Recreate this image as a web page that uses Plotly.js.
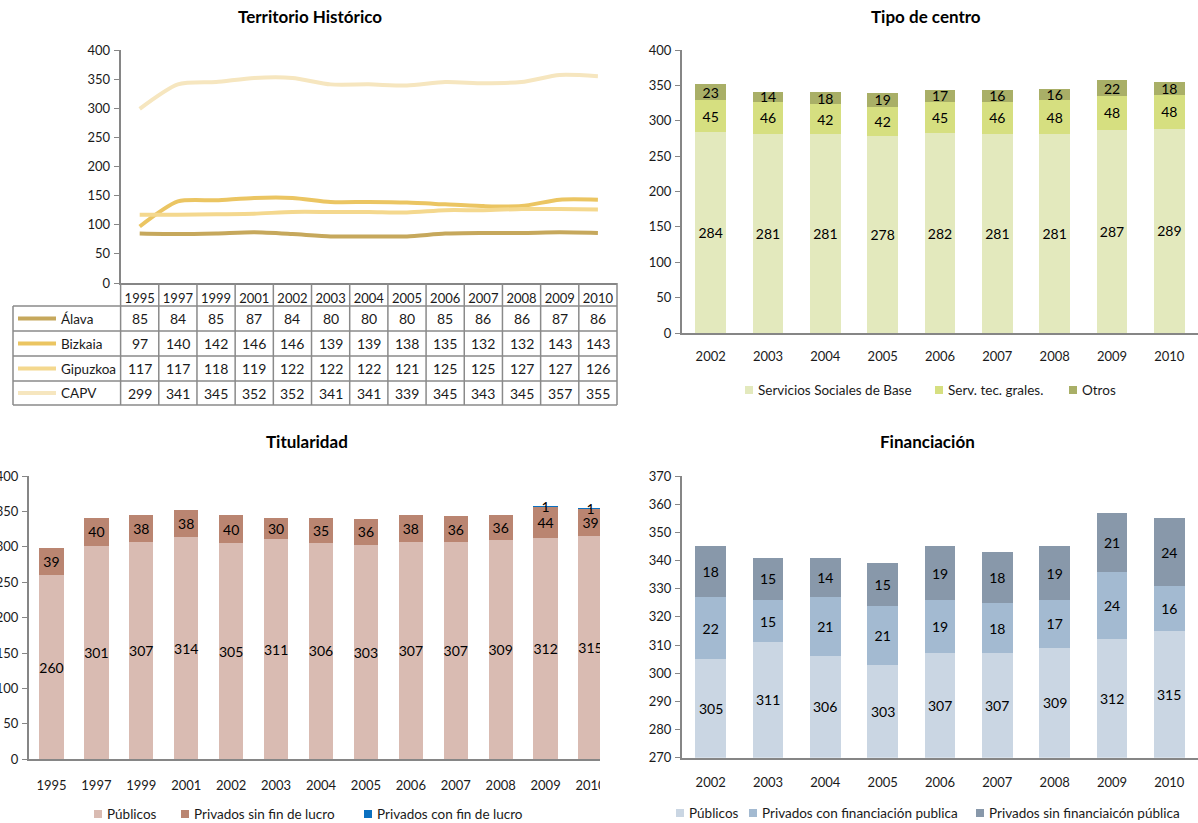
<!DOCTYPE html>
<html>
<head>
<meta charset="utf-8">
<script src="https://cdn.plot.ly/plotly-3.0.1.min.js"></script>
<style>html,body{margin:0;padding:0;background:#fff;}#chart{width:1198px;height:823px;}</style>
</head>
<body>
<div id="chart"></div>
<script>
// ---------- DATA ----------
const yearsTH = ['1995','1997','1999','2001','2002','2003','2004','2005','2006','2007','2008','2009','2010'];
const alava    = [85, 84, 85, 87, 84, 80, 80, 80, 85, 86, 86, 87, 86];
const bizkaia  = [97, 140, 142, 146, 146, 139, 139, 138, 135, 132, 132, 143, 143];
const gipuzkoa = [117, 117, 118, 119, 122, 122, 122, 121, 125, 125, 127, 127, 126];
const capv     = [299, 341, 345, 352, 352, 341, 341, 339, 345, 343, 345, 357, 355];
const thNames  = ['Álava', 'Bizkaia', 'Gipuzkoa', 'CAPV'];

const yearsTC = ['2002','2003','2004','2005','2006','2007','2008','2009','2010'];
const ssBase   = [284, 281, 281, 278, 282, 281, 281, 287, 289];
const servTec  = [45, 46, 42, 42, 45, 46, 48, 48, 48];
const otros    = [23, 14, 18, 19, 17, 16, 16, 22, 18];
const tcNames  = ['Servicios Sociales de Base', 'Serv. tec. grales.', 'Otros'];

const yearsTit = ['1995','1997','1999','2001','2002','2003','2004','2005','2006','2007','2008','2009','2010'];
const titPublicos = [260, 301, 307, 314, 305, 311, 306, 303, 307, 307, 309, 312, 315];
const titPrivSin  = [39, 40, 38, 38, 40, 30, 35, 36, 38, 36, 36, 44, 39];
const titPrivCon  = [null, null, null, null, null, null, null, null, null, null, null, 1, 1];
const titNames    = ['Públicos', 'Privados sin fin de lucro', 'Privados con fin de lucro'];

const yearsFin = ['2002','2003','2004','2005','2006','2007','2008','2009','2010'];
const finPublicos = [305, 311, 306, 303, 307, 307, 309, 312, 315];
const finPrivCon  = [22, 15, 21, 21, 19, 18, 17, 24, 16];
const finPrivSin  = [18, 15, 14, 15, 19, 18, 19, 21, 24];
const finNames    = ['Públicos', 'Privados con financiación publica', 'Privados sin financiaicón pública'];

// ---------- LAYOUT HELPERS ----------
const W = 1198, H = 823;
const px = x => x / W;
const py = y => 1 - y / H;
const FONT = 'Lato, Carlito, "Open Sans", sans-serif';
const AXC = '#868686';
const TXT = '#1a1a1a';

const thColors  = ['#C6A85C', '#EBC562', '#F4D88E', '#F6E6BF'];
const tcColors  = ['#E3E9BD', '#D6DF80', '#A9AF67'];
const titColors = ['#D9BBB2', '#BA8571', '#0A70C0'];
const finColors = ['#CAD6E3', '#A3BAD1', '#8898AA'];
const thSeries = [alava, bizkaia, gipuzkoa, capv];

const traces = [];
thSeries.forEach((s, i) => {
  traces.push({
    type: 'scatter', mode: 'lines', x: yearsTH, y: s, name: thNames[i],
    xaxis: 'x', yaxis: 'y', showlegend: false,
    line: {shape: 'spline', smoothing: 0.7, width: 4, color: thColors[i]}
  });
});

function bar(x, y, name, color, xa, ya, showText) {
  return {
    type: 'bar', x: x, y: y, name: name, xaxis: xa, yaxis: ya, showlegend: false,
    marker: {color: color, line: {width: 0}},
    text: showText === false ? null : y.map(v => v == null ? '' : String(v)),
    textposition: showText === false ? 'none' : 'inside', insidetextanchor: 'middle', textangle: 0,
    constraintext: 'none',
    textfont: {family: FONT, size: 14, color: '#000'}
  };
}
traces.push(bar(yearsTC, ssBase, tcNames[0], tcColors[0], 'x2', 'y2'));
traces.push(bar(yearsTC, servTec, tcNames[1], tcColors[1], 'x2', 'y2'));
traces.push(bar(yearsTC, otros, tcNames[2], tcColors[2], 'x2', 'y2'));

traces.push(bar(yearsTit, titPublicos, titNames[0], titColors[0], 'x3', 'y3'));
traces.push(bar(yearsTit, titPrivSin, titNames[1], titColors[1], 'x3', 'y3'));
traces.push(bar(yearsTit, titPrivCon, titNames[2], titColors[2], 'x3', 'y3'));

const finRange = [270, 370];
traces.push(bar(yearsFin, finPublicos, finNames[0], finColors[0], 'x4', 'y4', false));
traces.push(bar(yearsFin, finPrivCon, finNames[1], finColors[1], 'x4', 'y4'));
traces.push(bar(yearsFin, finPrivSin, finNames[2], finColors[2], 'x4', 'y4'));

function xax(d0, d1, anchor, standoff, extra) {
  return Object.assign({
    domain: [px(d0), px(d1)], anchor: anchor, type: 'category',
    showline: true, linecolor: AXC, linewidth: 2, ticks: '', showgrid: false, zeroline: false,
    tickfont: {family: FONT, size: 13, color: TXT}, ticklabelstandoff: standoff, fixedrange: true
  }, extra || {});
}
function yax(top, bottom, anchor, range, dtick) {
  return {
    domain: [py(bottom), py(top)], anchor: anchor, range: range, dtick: dtick, tick0: range[0],
    showline: true, linecolor: AXC, linewidth: 2, ticks: 'outside', ticklen: 5, tickcolor: AXC, tickwidth: 1,
    showgrid: false, zeroline: false, ticklabelstandoff: 1,
    tickfont: {family: FONT, size: 13, color: TXT}, fixedrange: true
  };
}

const tblL = 13, tblX0 = 120.6, tblX1 = 617, tblTop = 283;
const rowEdges = [306, 331, 356, 381, 405];
const rowCenters = [318.5, 343.5, 368.5, 393];

const shapes = [];
const annotations = [];
const GRID = '#8a8a8a';
rowEdges.forEach(y => shapes.push({type: 'line', xref: 'paper', yref: 'paper', x0: px(tblL), x1: px(tblX1), y0: py(y), y1: py(y), line: {color: GRID, width: 1.5}}));
const nCol = yearsTH.length, cw = (tblX1 - tblX0) / nCol;
for (let k = 0; k <= nCol; k++) {
  const x = tblX0 + k * cw;
  shapes.push({type: 'line', xref: 'paper', yref: 'paper', x0: px(x), x1: px(x), y0: py(tblTop), y1: py(405), line: {color: GRID, width: 1.5}});
}
shapes.push({type: 'line', xref: 'paper', yref: 'paper', x0: px(tblL), x1: px(tblL), y0: py(306), y1: py(405), line: {color: GRID, width: 1.5}});
thNames.forEach((n, i) => {
  shapes.push({type: 'line', xref: 'paper', yref: 'paper', x0: px(18), x1: px(56), y0: py(rowCenters[i]), y1: py(rowCenters[i]), line: {color: thColors[i], width: 4}});
  annotations.push({xref: 'paper', yref: 'paper', x: px(59), y: py(rowCenters[i]), xanchor: 'left', yanchor: 'middle', showarrow: false, text: n, font: {family: FONT, size: 13.5, color: TXT}});
  thSeries[i].forEach((v, j) => {
    annotations.push({xref: 'x', yref: 'paper', x: j, y: py(rowCenters[i]), xanchor: 'center', yanchor: 'middle', showarrow: false, text: String(v), font: {family: FONT, size: 14, color: TXT}});
  });
});

// labels of the Públicos segment in Financiación (centred in the visible part of the bar)
finPublicos.forEach((v, j) => {
  annotations.push({xref: 'x4', yref: 'y4', x: j, y: (Math.max(finRange[0], 0) + v) / 2, xanchor: 'center', yanchor: 'middle', showarrow: false, text: String(v), font: {family: FONT, size: 14, color: '#000'}});
});

// crop of the lower-left panel at the panel border
shapes.push({type: 'rect', xref: 'paper', yref: 'paper', x0: px(600), x1: px(640), y0: 0, y1: py(420), fillcolor: '#fff', line: {width: 0}, layer: 'above'});

// subplot titles
[['Territorio Histórico', 310, 16], ['Tipo de centro', 926, 16], ['Titularidad', 307, 442], ['Financiación', 927, 442]].forEach(t => {
  annotations.push({xref: 'paper', yref: 'paper', x: px(t[1]), y: py(t[2]), xanchor: 'center', yanchor: 'middle', showarrow: false,
    text: '<b>' + t[0] + '</b>', font: {family: FONT, size: 17, color: '#000'}});
});

// legends (key square + label)
function legend(names, colors, sqLeft, yc) {
  names.forEach((n, i) => {
    shapes.push({type: 'rect', xref: 'paper', yref: 'paper', x0: px(sqLeft[i]), x1: px(sqLeft[i] + 8), y0: py(yc + 4), y1: py(yc - 4), fillcolor: colors[i], line: {width: 0}});
    annotations.push({xref: 'paper', yref: 'paper', x: px(sqLeft[i] + 11), y: py(yc), xanchor: 'left', yanchor: 'middle', showarrow: false, text: n, font: {family: FONT, size: 13.5, color: TXT}});
  });
}
legend(tcNames, tcColors, [745, 935, 1069], 390);
legend(titNames, titColors, [94, 181, 364], 814);
legend(finNames, finColors, [676, 749, 976], 813);

const layout = {
  width: W, height: H, margin: {l: 0, r: 0, t: 0, b: 0},
  paper_bgcolor: '#fff', plot_bgcolor: 'rgba(0,0,0,0)',
  font: {family: FONT, size: 13, color: TXT},
  barmode: 'stack', bargap: 0.46, showlegend: false,
  xaxis: xax(tblX0, tblX1, 'y', 2, {range: [-0.5, 12.5]}),
  yaxis: yax(50, 283, 'x', [0, 400], 50),
  xaxis2: xax(682, 1198, 'y2', 10),
  yaxis2: yax(50, 333, 'x2', [0, 400], 50),
  xaxis3: xax(29, 613, 'y3', 13),
  yaxis3: yax(476, 759.3, 'x3', [0, 400], 50),
  xaxis4: xax(682, 1198, 'y4', 12),
  yaxis4: yax(476, 757.7, 'x4', finRange, 10),
  shapes: shapes,
  annotations: annotations
};

Plotly.newPlot('chart', traces, layout, {displayModeBar: false, staticPlot: true});
</script>
</body>
</html>
